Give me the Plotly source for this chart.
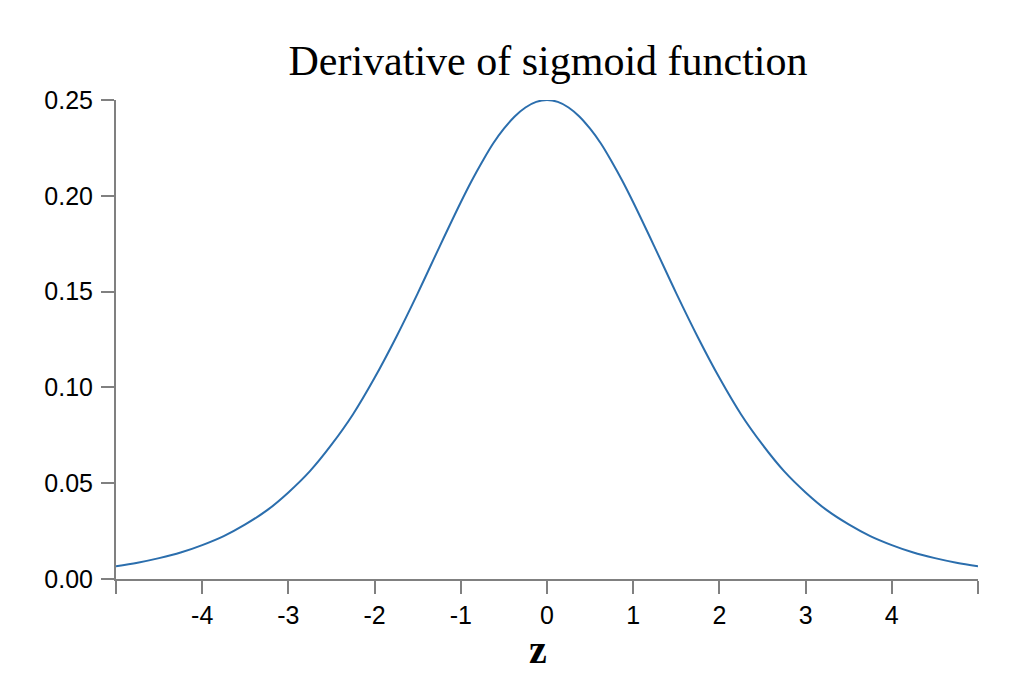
import plotly.graph_objects as go

# z values and the derivative of the sigmoid
z_values = [-5.0, -4.75, -4.5, -4.25, -4.0, -3.75, -3.5, -3.25, -3.0, -2.75, -2.5,
            -2.25, -2.0, -1.75, -1.5, -1.25, -1.0, -0.875, -0.75, -0.625, -0.5, -0.375,
            -0.25, -0.125, 0.0, 0.125, 0.25, 0.375, 0.5, 0.625, 0.75, 0.875,
            1.0, 1.25, 1.5, 1.75, 2.0, 2.25, 2.5,
            2.75, 3.0, 3.25, 3.5, 3.75, 4.0, 4.25, 4.5, 4.75, 5.0]
dsigmoid = [0.0066, 0.0085, 0.0109, 0.0138, 0.0177, 0.0224, 0.0285, 0.0358, 0.0452, 0.0563, 0.0701,
            0.0860, 0.1050, 0.1262, 0.1491, 0.1731, 0.1966, 0.2077, 0.2179, 0.2273, 0.2350, 0.2414,
            0.2461, 0.2490, 0.2500, 0.2490, 0.2461, 0.2414, 0.2350, 0.2273, 0.2179, 0.2077,
            0.1966, 0.1731, 0.1491, 0.1262, 0.1050, 0.0860, 0.0701,
            0.0563, 0.0452, 0.0358, 0.0285, 0.0224, 0.0177, 0.0138, 0.0109, 0.0085, 0.0066]

x_tickvals = [-5, -4, -3, -2, -1, 0, 1, 2, 3, 4, 5]
x_ticktext = ["", "-4", "-3", "-2", "-1", "0", "1", "2", "3", "4", ""]
y_tickvals = [0.0, 0.05, 0.10, 0.15, 0.20, 0.25]
y_ticktext = ["0.00", "0.05", "0.10", "0.15", "0.20", "0.25"]

title_text = "Derivative of sigmoid function"
x_label = "z"

fig = go.Figure()
fig.add_trace(go.Scatter(x=z_values, y=dsigmoid, mode="lines",
                         line=dict(color="#2b6ead", width=2, shape="spline", smoothing=1),
                         hoverinfo="x+y", showlegend=False))

axis_color = "#808080"
fig.update_layout(
    width=1022, height=696,
    margin=dict(l=108, r=52, t=92, b=125),
    paper_bgcolor="white", plot_bgcolor="white",
    title=dict(text=title_text, x=540 / 1022, xanchor="center",
               yref="container", y=1 - 52 / 696, yanchor="middle",
               font=dict(family="Liberation Serif", size=42, color="black")),
    xaxis=dict(range=[-5, 5], tickvals=x_tickvals, ticktext=x_ticktext,
               showgrid=False, zeroline=False, showline=True, linecolor=axis_color, linewidth=2,
               ticks="outside", ticklen=13, tickwidth=2, tickcolor=axis_color,
               tickfont=dict(family="Liberation Sans", size=25, color="black")),
    yaxis=dict(range=[0, 0.25], tickvals=y_tickvals, ticktext=y_ticktext,
               showgrid=False, zeroline=False, showline=True, linecolor=axis_color, linewidth=2,
               ticks="outside", ticklen=13, tickwidth=2, tickcolor=axis_color,
               ticklabelstandoff=3,
               tickfont=dict(family="Liberation Sans", size=25, color="black")),
    annotations=[dict(text="<b>" + x_label + "</b>", xref="paper", yref="paper",
                      x=(538 - 116) / 862, y=(579 - 649) / 479, xanchor="center", yanchor="middle",
                      showarrow=False,
                      font=dict(family="Liberation Serif", size=40, color="black"))],
)

fig.write_html("out.html")
